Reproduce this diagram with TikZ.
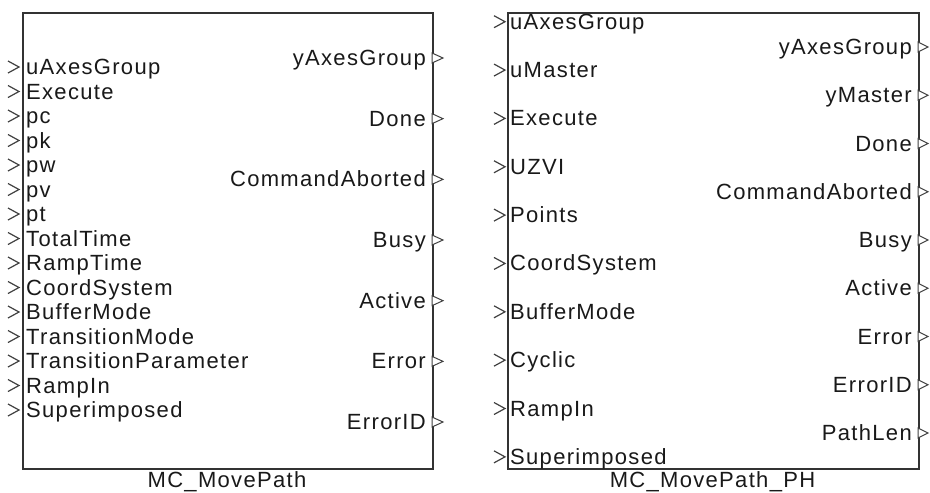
\documentclass[tikz,border=0pt]{standalone}
\usepackage{fontspec}
\setmainfont{Liberation Sans}[LetterSpace=6]
\tikzset{
  fbox/.style={draw=black!80, line width=1.8pt, fill=white, inner sep=0pt, anchor=north west},
  portlab/.style={inner sep=0pt, text=black!90, font=\fontsize{22}{26}\selectfont},
  inlab/.style={portlab, anchor=base west},
  outlab/.style={portlab, anchor=base east},
  blocklab/.style={portlab, anchor=base},
  chev/.style={draw=black!75, line width=1.2pt},
  outtri/.style={draw=black!75, line width=1pt, fill=white}
}
\begin{document}
\begin{tikzpicture}[x=1pt,y=-1pt]
\useasboundingbox (0,0) rectangle (930,493);
% ---------- left block ----------
\node[fbox, minimum width=410pt, minimum height=456pt] (A) at (22,12) {};
\foreach \t [count=\i from 0] in {uAxesGroup,Execute,pc,pk,pw,pv,pt,TotalTime,RampTime,CoordSystem,BufferMode,TransitionMode,TransitionParameter,RampIn,Superimposed}{
  \pgfmathsetmacro{\yy}{67+24.5*\i}
  \draw[chev] (8,\yy-6) -- (19,\yy) -- (8,\yy+6);
  \node[inlab] (A-in-\i) at (26,\yy+7.5) {\t};
}
\foreach \t [count=\i from 0] in {yAxesGroup,Done,CommandAborted,Busy,Active,Error,ErrorID}{
  \pgfmathsetmacro{\yy}{58+60.67*\i}
  \draw[outtri] (432,\yy-5) -- (443,\yy) -- (432,\yy+5) -- cycle;
  \node[outlab] (A-out-\i) at (426,\yy+7.5) {\t};
}
\node[blocklab] (A-name) at (227,487) {MC\_MovePath};
% ---------- right block ----------
\node[fbox, minimum width=411pt, minimum height=456pt] (B) at (507,12) {};
\foreach \t [count=\i from 0] in {uAxesGroup,uMaster,Execute,UZVI,Points,CoordSystem,BufferMode,Cyclic,RampIn,Superimposed}{
  \pgfmathsetmacro{\yy}{21.7+48.35*\i}
  \draw[chev] (494,\yy-6) -- (505,\yy) -- (494,\yy+6);
  \node[inlab] (B-in-\i) at (510,\yy+7.5) {\t};
}
\foreach \t [count=\i from 0] in {yAxesGroup,yMaster,Done,CommandAborted,Busy,Active,Error,ErrorID,PathLen}{
  \pgfmathsetmacro{\yy}{47+48.25*\i}
  \draw[outtri] (918,\yy-5) -- (928,\yy) -- (918,\yy+5) -- cycle;
  \node[outlab] (B-out-\i) at (912,\yy+7.5) {\t};
}
\node[blocklab] (B-name) at (712.5,487) {MC\_MovePath\_PH};
\end{tikzpicture}
\end{document}
